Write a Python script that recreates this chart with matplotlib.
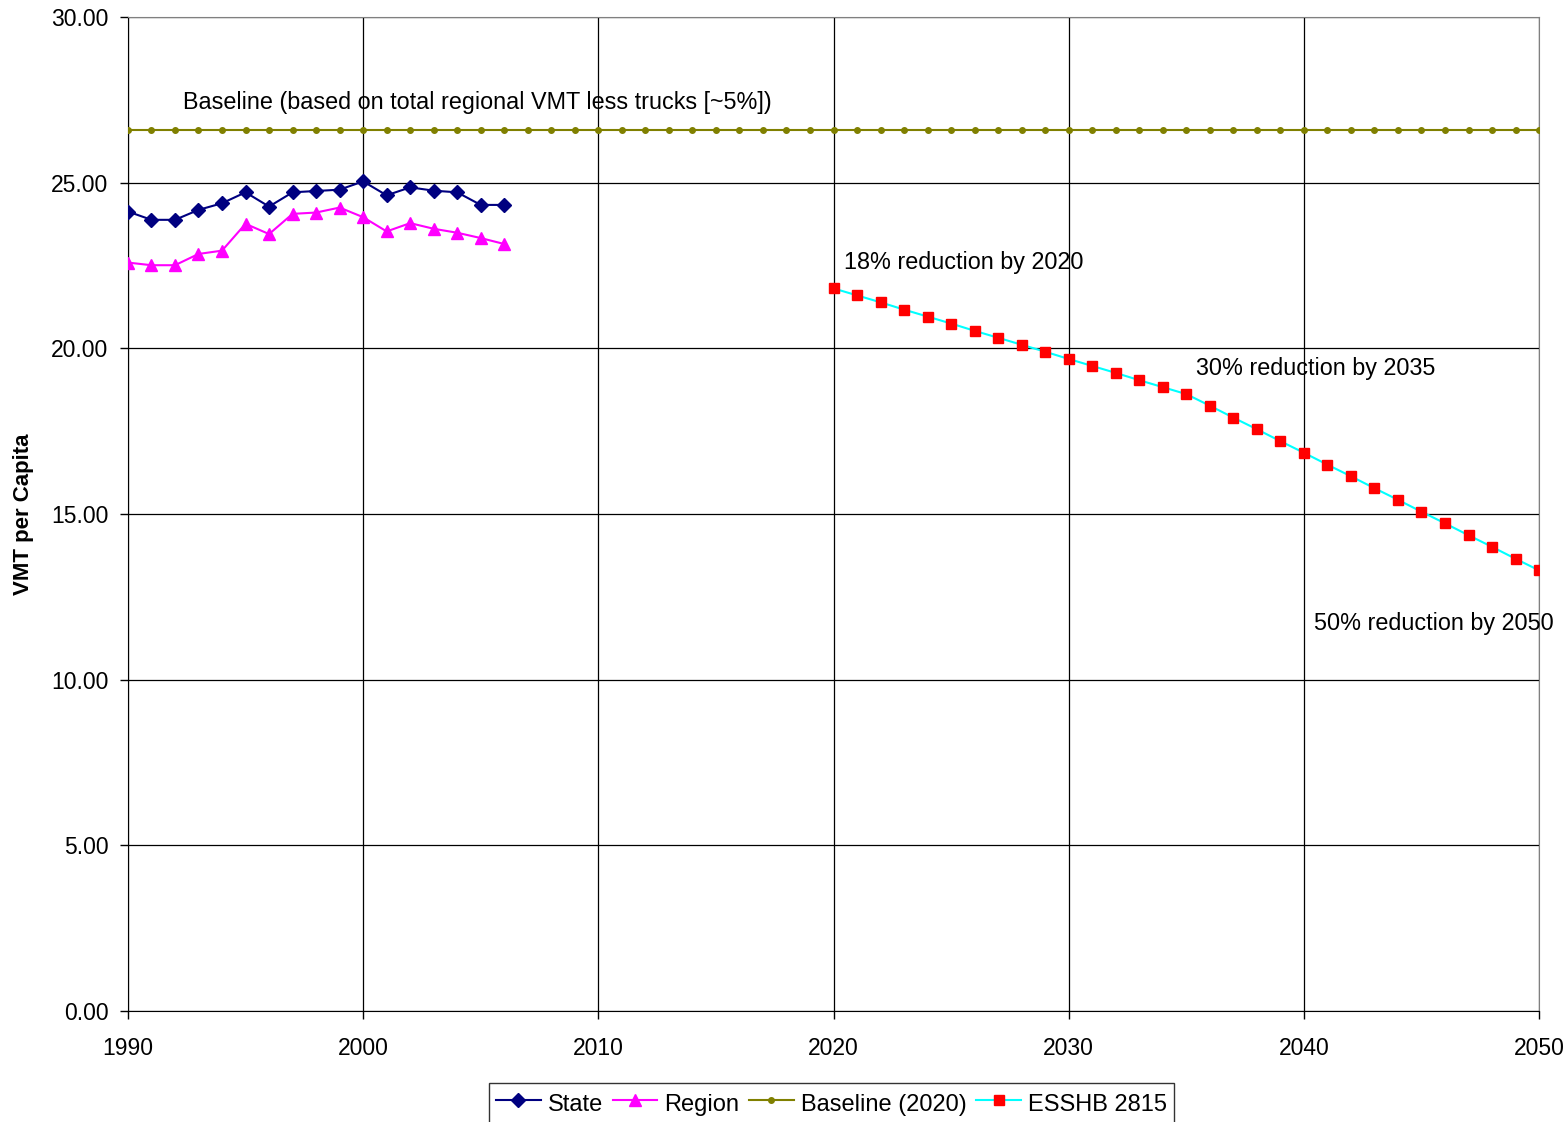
import matplotlib
matplotlib.use("Agg")
import matplotlib.pyplot as plt

plt.rcParams["font.family"] = ["Liberation Sans", "DejaVu Sans"]

# historical VMT per capita
hist_years = list(range(1990, 2007))
state = [24.13, 23.88, 23.88, 24.18, 24.38, 24.71, 24.28, 24.71, 24.75, 24.79,
         25.04, 24.62, 24.86, 24.76, 24.71, 24.33, 24.33]
region = [22.59, 22.51, 22.51, 22.85, 22.95, 23.76, 23.45, 24.06, 24.10, 24.25,
          23.96, 23.53, 23.78, 23.61, 23.49, 23.33, 23.15]

# flat baseline for every year
base_years = list(range(1990, 2051))
baseline = [26.6] * len(base_years)

# ESSHB 2815 reduction path
esshb_years = list(range(2020, 2051))
esshb = [21.81, 21.60, 21.39, 21.17, 20.96, 20.75, 20.53, 20.32, 20.11, 19.90,
         19.68, 19.47, 19.26, 19.04, 18.83, 18.62, 18.27, 17.91, 17.56, 17.20,
         16.85, 16.49, 16.14, 15.78, 15.43, 15.07, 14.72, 14.36, 14.01, 13.65,
         13.30]

fig = plt.figure(figsize=(15.66, 11.22), dpi=100)
ax = fig.add_axes([0.0817, 0.0989, 0.9011, 0.8859])

ax.plot(hist_years, state, color="#000080", marker="D", markersize=7,
        lw=1.5, label="State", zorder=4)
ax.plot(hist_years, region, color="#FF00FF", marker="^", markersize=8,
        lw=1.5, label="Region", zorder=4)
ax.plot(base_years, baseline, color="#808000", marker="o", markersize=4,
        lw=1.5, label="Baseline (2020)", zorder=3)
ax.plot(esshb_years, esshb, color="#00FFFF", marker="s", markersize=7,
        markerfacecolor="#FF0000", markeredgecolor="#FF0000",
        lw=1.5, label="ESSHB 2815", zorder=4)

txt = dict(fontsize=16.8, color="black", va="center", ha="left")
ax.text(1992.35, 27.42, "Baseline (based on total regional VMT less trucks [~5%])", **txt)
ax.text(2020.45, 22.59, "18% reduction by 2020", **txt)
ax.text(2035.4, 19.39, "30% reduction by 2035", **txt)
ax.text(2040.45, 11.69, "50% reduction by 2050", clip_on=False, **txt)

ax.set_xlim(1990, 2050)
ax.set_ylim(0, 30)
ax.set_xticks(range(1990, 2051, 10))
ax.set_yticks(range(0, 31, 5))
ax.set_yticklabels([f"{v:.2f}" for v in range(0, 31, 5)])
ax.tick_params(labelsize=16.5, direction="out", length=6, width=1)
ax.tick_params(axis="x", pad=13)
ax.tick_params(axis="y", pad=8)
ax.grid(True, color="black", lw=0.9)
ax.set_axisbelow(True)
for side in ("top", "right"):
    ax.spines[side].set_color("#808080")
for side in ("left", "bottom"):
    ax.spines[side].set_color("black")

ax.set_ylabel("VMT per Capita", fontsize=16, fontweight="bold", labelpad=12)

leg = fig.legend(loc="upper center", bbox_to_anchor=(0.531, 0.035), ncol=4,
                 fontsize=17, frameon=True, fancybox=False, handlelength=1.9,
                 handleheight=1.3, handletextpad=0.3, columnspacing=0.4,
                 borderpad=0.3, borderaxespad=0)
leg.get_frame().set_edgecolor("black")
leg.get_frame().set_linewidth(1)

fig.savefig("out.png", dpi=100)
